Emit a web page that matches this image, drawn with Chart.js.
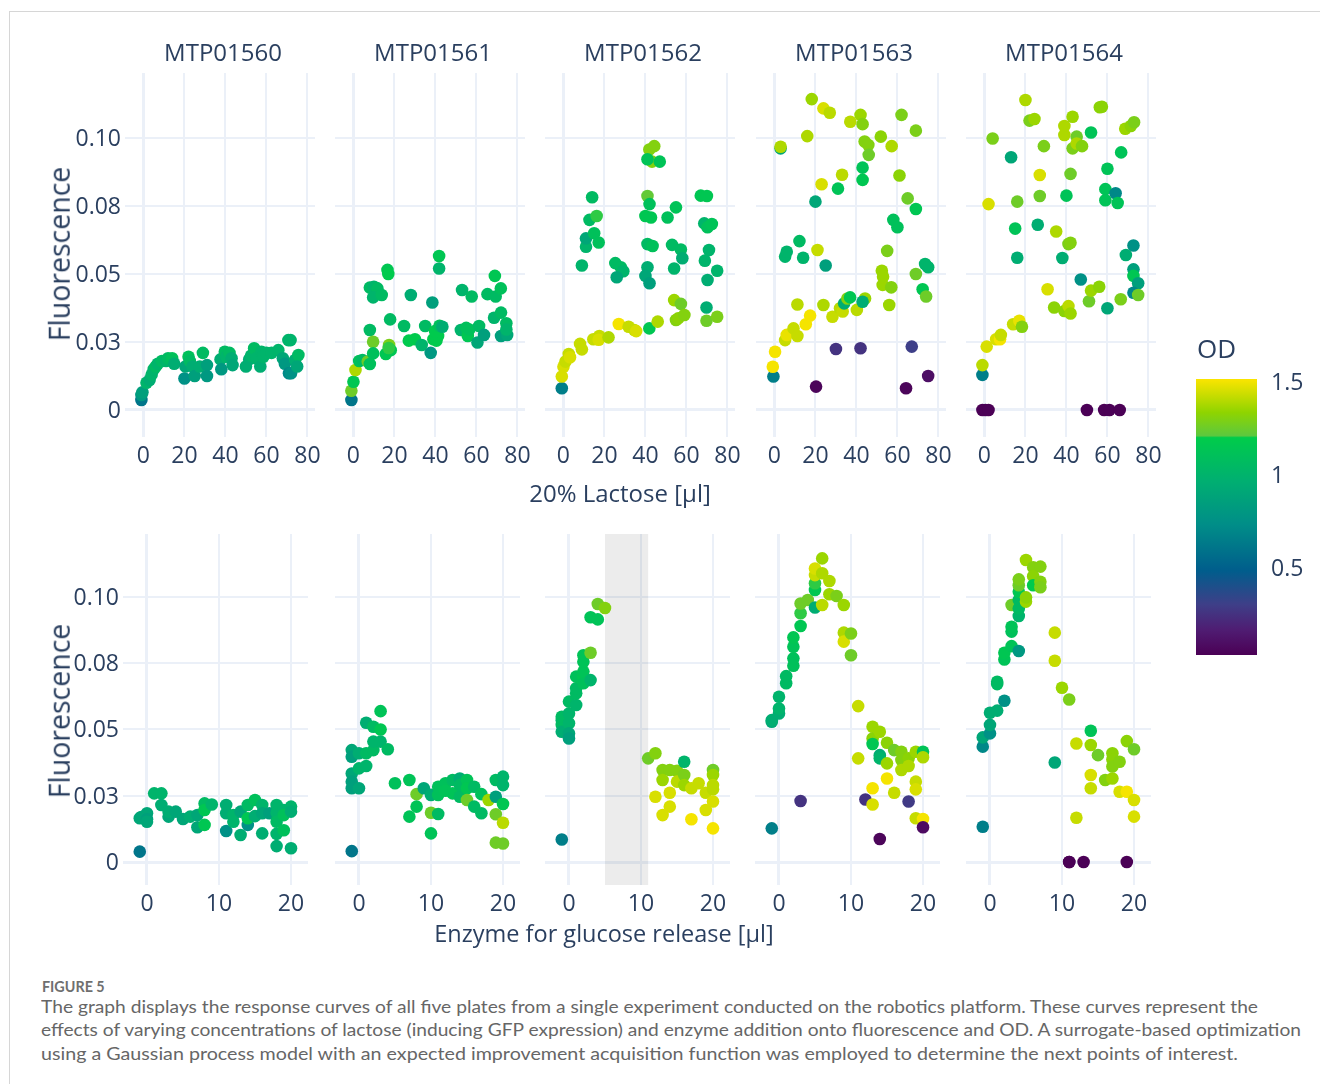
<!DOCTYPE html>
<html>
<head>
<meta charset="utf-8">
<script src="https://cdn.jsdelivr.net/npm/chart.js@4.4.0/dist/chart.umd.min.js"></script>
<style>
  html, body { margin: 0; padding: 0; background: #ffffff; }
  #fig { position: relative; width: 1320px; height: 1084px; overflow: hidden; background: #ffffff;
         font-family: 'Open Sans', sans-serif; color: #2a3f5f; }
  #frame { position: absolute; left: 9px; top: 11px; right: -2px; bottom: -2px;
           border-top: 1px solid #d6d6d6; border-left: 1px solid #d6d6d6; }
  .txt { position: absolute; white-space: nowrap; }
  canvas { position: absolute; }
  .cap { font-family: Lato, 'Open Sans', sans-serif; color: #666666; transform-origin: 0 0; }
</style>
</head>
<body>
<div id="fig"><div id="frame"></div></div>
<script>
// ---- data -------------------------------------------------------------
const plates = ['MTP01560', 'MTP01561', 'MTP01562', 'MTP01563', 'MTP01564'];
const lactoseTicks = [0, 20, 40, 60, 80];
const enzymeTicks = [0, 10, 20];
const fluorescenceTicks = [0, 0.025, 0.05, 0.075, 0.1];
const fluorescenceTickLabels = ['0', '0.03', '0.05', '0.08', '0.10'];
const odTicks = [0.5, 1, 1.5];
const odTickLabels = ['0.5', '1', '1.5'];
const odRange = [0.027, 1.51];
const shadedEnzymeRange = [5, 11];   // region marked on plate MTP01562

// each point: [volume µl, fluorescence, OD]
const lactose_MTP01560 = [
  [-1,0.0037,0.6],[-1,0.0055,0.8],[-0.5,0.0065,0.85],[1.5,0.010,1.0],[3,0.011,0.95],[4,0.013,1.0],[5,0.015,1.0],
  [6,0.016,1.05],[7,0.017,1.0],[9,0.018,1.05],[11,0.018,1.0],[12,0.019,1.05],[14,0.019,1.1],[15,0.017,0.95],
  [20,0.0116,0.75],[20.5,0.016,0.9],[22,0.0196,1.1],[22.6,0.018,1.05],[24,0.016,0.95],[25,0.0125,0.85],
  [27.5,0.016,0.95],[29,0.021,1.05],[31,0.0165,0.85],[31,0.0125,0.8],[37.6,0.0186,0.95],[38,0.015,0.8],
  [39.7,0.0214,1.05],[40.5,0.0196,1.0],[42,0.021,1.05],[43,0.019,0.95],[43.5,0.0165,0.9],[50,0.016,0.95],
  [51.6,0.0186,0.95],[52.5,0.02,1.0],[54,0.0227,1.05],[55,0.019,1.0],[57,0.016,0.95],[57.6,0.0214,1.0],
  [58.5,0.0196,1.0],[60,0.021,1.0],[62.5,0.021,1.0],[65.8,0.022,1.0],[68,0.019,0.9],[69,0.017,0.8],
  [70.7,0.0257,1.0],[71.8,0.0257,1.0],[71,0.0135,0.7],[72,0.0135,0.75],[74,0.0184,0.95],[75.6,0.0202,1.05],[75,0.016,0.9]
];
const lactose_MTP01561 = [
  [-1,0.0037,0.6],[-1,0.0071,1.25],[0,0.0104,1.15],[1,0.0147,1.38],[2.8,0.018,1.1],[4.4,0.0184,1.05],[7,0.0178,1.25],
  [8,0.0169,1.1],[8,0.0294,1.05],[9.6,0.0251,1.25],[9.6,0.0208,1.1],[8,0.045,1.05],[10,0.0453,1.0],[11.7,0.0447,1.05],
  [9.6,0.0414,1.0],[13.8,0.0423,1.05],[16.6,0.0515,1.15],[17,0.050,1.18],[15.8,0.0206,1.15],[17.4,0.0239,1.28],
  [18.2,0.022,1.15],[17.2,0.0228,1.2],[17.9,0.0333,1.05],[24.7,0.0309,1.05],[28,0.0423,0.95],[27,0.0255,1.18],
  [30,0.026,1.18],[33.3,0.0239,1.0],[35,0.0309,1.05],[37.7,0.021,0.8],[38.5,0.0395,0.85],[39,0.026,1.18],
  [40.5,0.0255,1.18],[41.3,0.0272,1.18],[39.8,0.029,1.18],[42,0.031,1.1],[41.8,0.0566,1.15],[41.8,0.052,1.0],
  [43.4,0.0306,0.95],[52.4,0.0294,1.0],[53,0.0441,1.0],[55,0.0302,1.1],[55.8,0.0272,1.15],[56.5,0.0296,1.1],
  [57.7,0.0417,1.05],[60.5,0.0248,0.9],[61.3,0.0309,1.05],[63.7,0.0276,0.85],[65.4,0.0426,1.05],[69,0.0493,1.15],
  [69.4,0.0417,1.05],[71.9,0.0447,1.1],[68.6,0.0339,1.0],[72,0.0358,1.05],[72,0.0272,0.85],[74.6,0.0319,1.05],
  [75,0.0276,0.9],[74.6,0.0296,1.0]
];
const lactose_MTP01562 = [
  [-0.8,0.008,0.65],[-0.8,0.0123,1.45],[0,0.0159,1.45],[1,0.0178,1.42],[2.6,0.0206,1.42],[3.2,0.0194,1.45],
  [8.1,0.0243,1.42],[9,0.0223,1.42],[14.6,0.026,1.42],[17.5,0.0272,1.42],[17.2,0.0258,1.45],[22,0.0267,1.38],
  [27,0.0316,1.5],[31.8,0.0306,1.42],[34.6,0.0294,1.42],[35.5,0.029,1.45],[41.9,0.03,1.15],[46,0.0325,1.38],
  [54,0.0404,1.35],[57.3,0.039,1.25],[54.9,0.0331,1.3],[56,0.0337,1.32],[59,0.0349,1.3],[69.8,0.0377,0.95],
  [69.8,0.0328,1.25],[75,0.0343,1.28],[9,0.0531,1.0],[11,0.06,1.0],[11,0.0631,0.9],[15,0.065,1.1],[17.2,0.0616,1.1],
  [12.7,0.0699,1.05],[16.2,0.0713,1.2],[14,0.0782,1.05],[25.3,0.054,1.05],[28,0.0525,1.05],[29.2,0.051,1.0],
  [26,0.0488,0.9],[41,0.0787,1.22],[42,0.0757,1.1],[40,0.0713,1.15],[42.7,0.0708,1.15],[41,0.061,1.05],
  [43.5,0.0603,1.1],[41,0.0525,0.95],[40,0.0493,0.9],[42,0.0466,0.85],[41.9,0.0958,1.3],[44.3,0.097,1.3],
  [43.2,0.0913,1.3],[41,0.0922,1.12],[47,0.0913,1.12],[50.8,0.0708,1.1],[54.9,0.0745,1.12],[53,0.0607,1.05],
  [57.3,0.059,1.05],[58,0.0558,0.95],[54,0.052,1.0],[67,0.0788,1.15],[70,0.0787,1.15],[68.7,0.0686,1.0],
  [70.3,0.0672,1.1],[72.4,0.0684,1.12],[71,0.0588,1.0],[69,0.0549,1.0],[75,0.0512,1.0],[70.3,0.0478,0.95]
];
const lactose_MTP01563 = [
  [-0.5,0.0123,0.65],[-0.8,0.0159,1.5],[0.3,0.0214,1.5],[5.2,0.0257,1.42],[6,0.0276,1.48],[9.3,0.03,1.42],
  [11.2,0.0272,1.42],[11.2,0.0388,1.4],[15.3,0.0315,1.5],[17.4,0.0347,1.5],[20.3,0.0086,0.05],[23.9,0.0386,1.38],
  [28.3,0.0343,1.42],[30,0.0224,0.25],[32,0.0374,1.4],[33.3,0.0362,1.42],[34,0.0392,0.95],[35.6,0.041,1.3],
  [36.9,0.0414,1.15],[40.2,0.0368,1.4],[42,0.0227,0.25],[44.2,0.041,1.35],[43,0.0398,0.95],[52.4,0.0512,1.35],
  [53,0.049,1.35],[52.8,0.046,1.35],[56,0.0386,1.35],[57,0.0451,1.3],[64.2,0.008,0.05],[67,0.0233,0.3],
  [75,0.0125,0.1],[69,0.05,1.25],[72.3,0.0444,1.15],[74,0.0417,1.25],[73.5,0.0537,1.0],[75,0.0525,1.0],
  [55,0.0585,1.28],[58,0.0699,1.1],[60,0.0672,1.1],[5.2,0.0564,1.0],[6,0.0582,1.0],[12.2,0.0621,1.05],
  [14,0.056,1.0],[21,0.0588,1.42],[25,0.0531,0.85],[20,0.0766,0.9],[23,0.083,1.45],[31,0.0814,1.12],
  [33,0.0865,1.4],[43,0.0891,1.12],[43,0.0846,1.15],[44,0.0987,1.3],[45.8,0.0974,1.3],[46,0.0938,1.25],
  [3,0.0962,0.9],[3,0.0968,1.38],[16,0.1007,1.38],[18.2,0.1143,1.35],[23.9,0.1109,1.45],[27,0.1093,1.4],
  [37,0.106,1.4],[42,0.1085,1.35],[43,0.1051,1.3],[51.9,0.1005,1.32],[57.2,0.097,1.38],[61,0.0862,1.32],
  [65,0.0778,1.25],[69,0.0739,1.15],[62,0.1085,1.28],[69,0.1027,1.28]
];
const lactose_MTP01564 = [
  [-1,0,0.03],[0.5,0,0.03],[2,0,0.03],[50,0,0.03],[58.4,0,0.03],[61,0,0.03],[66,0,0.03],[-1,0.0129,0.65],
  [-1,0.0165,1.4],[1.1,0.0233,1.45],[5.7,0.026,1.45],[7.6,0.026,1.5],[8,0.0276,1.42],[14,0.0315,1.42],
  [17,0.0328,1.48],[18.3,0.0306,1.3],[30.8,0.0444,1.45],[34,0.0377,1.32],[39,0.0364,1.32],[41,0.0382,1.4],
  [42,0.0355,1.35],[47,0.048,0.75],[51,0.04,1.25],[52,0.0439,1.35],[56,0.0453,1.32],[60,0.0374,0.9],
  [66.5,0.0407,1.28],[72.7,0.0517,0.85],[72.7,0.0493,1.15],[75,0.0466,0.85],[72.7,0.0431,0.7],[75,0.0423,1.25],
  [72.7,0.0605,0.75],[69,0.057,0.95],[16,0.056,0.95],[15,0.0667,1.12],[26,0.0681,0.95],[35,0.0656,1.38],
  [41,0.061,1.28],[42,0.0615,1.3],[38,0.0559,0.95],[2,0.0757,1.45],[16,0.0766,1.25],[27,0.0787,1.25],
  [40,0.0788,1.12],[27,0.0864,1.45],[42,0.0868,1.25],[59,0.0812,1.12],[64,0.0797,0.7],[59,0.0771,1.12],
  [65,0.0761,1.12],[60,0.0887,1.12],[66.7,0.0947,1.12],[13,0.0929,0.9],[4,0.0998,1.28],[29,0.097,1.28],
  [20,0.114,1.38],[22,0.1064,1.28],[24.4,0.107,1.35],[39,0.1044,1.38],[39,0.1011,1.38],[43,0.1078,1.35],
  [45,0.1005,1.25],[43,0.0962,1.28],[45,0.098,1.38],[47.6,0.097,1.3],[52,0.102,1.12],[56.3,0.1113,1.32],
  [57.3,0.1115,1.32],[68.7,0.1034,1.35],[71.4,0.1044,1.32],[73,0.1058,1.28]
];

const enzyme_MTP01560 = [
  [-1,0.0039,0.6],[-1,0.0165,0.9],[-0.8,0.017,0.9],[0,0.0184,0.9],[0,0.0161,0.85],[0,0.0152,0.9],[1,0.0259,1.0],
  [2,0.0259,1.0],[2,0.0215,0.95],[3,0.0171,0.9],[3,0.019,0.95],[4,0.019,0.9],[5,0.0162,0.9],[6,0.0171,0.95],
  [7,0.0177,0.9],[7,0.0131,0.9],[8,0.0221,1.05],[8,0.0196,1.15],[8,0.014,1.15],[9,0.0217,1.0],[11,0.0215,0.95],
  [11,0.0184,0.95],[11,0.0117,0.75],[12,0.0177,1.0],[12,0.0152,1.0],[13,0.019,0.9],[13,0.0102,0.95],
  [14,0.0215,1.05],[14,0.014,0.75],[14,0.0165,1.15],[15,0.0234,1.1],[15,0.0173,0.95],[16,0.0215,1.0],
  [16,0.0108,0.95],[16,0.0184,0.9],[17,0.0184,0.85],[18,0.0215,1.0],[18,0.0186,1.0],[18,0.0152,1.05],
  [18,0.0106,1.0],[18,0.006,0.95],[19,0.0196,1.0],[19,0.0177,1.1],[19,0.012,1.1],[20,0.0209,1.0],
  [20,0.019,0.95],[20,0.0052,0.95]
];
const enzyme_MTP01561 = [
  [-1,0.0041,0.6],[-1,0.0422,0.9],[-1,0.0397,0.85],[-1,0.0334,0.9],[-1,0.0303,0.85],[-1,0.0278,0.85],[0,0.041,0.95],
  [0,0.0278,0.9],[0,0.0353,1.0],[1,0.0362,1.0],[1,0.041,1.05],[1,0.0525,0.95],[2,0.0422,1.05],[2,0.0454,1.0],
  [2,0.051,1.05],[3,0.0569,1.12],[3,0.05,1.15],[3,0.0454,1.0],[4,0.0425,1.05],[5,0.0297,1.1],[7,0.0309,1.12],
  [7,0.0171,1.12],[8,0.0256,1.25],[8,0.0209,1.12],[9,0.0278,0.9],[10,0.0253,0.95],[10,0.0186,1.25],[10,0.0108,1.12],
  [11,0.0284,1.1],[11,0.0253,1.1],[11,0.0181,1.05],[12,0.0297,1.1],[12,0.0269,1.12],[13,0.0309,1.05],
  [13,0.0259,1.12],[14,0.0315,0.95],[14,0.0246,1.05],[14,0.029,1.05],[15,0.0309,1.12],[15,0.0278,1.15],
  [15,0.0234,1.25],[16,0.0284,1.05],[16,0.0209,1.05],[17,0.0256,1.1],[17,0.0184,1.05],[18,0.0234,1.35],
  [19,0.0309,1.05],[19,0.0246,0.85],[19,0.018,1.25],[19,0.0073,1.25],[20,0.0322,1.0],[20,0.029,1.0],
  [20,0.0219,1.15],[20,0.0148,1.4],[20,0.007,1.25]
];
const enzyme_MTP01562 = [
  [-1,0.0085,0.65],[-1,0.0535,1.0],[-1,0.0517,1.05],[-1,0.0491,0.95],[-1,0.0548,1.05],[0,0.056,1.0],[0,0.0523,1.0],
  [0,0.0485,0.9],[0,0.0466,0.85],[0,0.0605,1.05],[1,0.0592,1.0],[1,0.0636,1.05],[1,0.0655,1.05],[1,0.0699,1.1],
  [2,0.0699,1.15],[2,0.0674,1.1],[2,0.0718,1.12],[2,0.0755,1.12],[2,0.078,1.12],[3,0.0789,1.25],[3,0.0686,1.0],
  [3,0.0923,1.12],[4,0.0915,1.12],[4,0.0973,1.25],[5,0.0958,1.3],[11,0.0391,1.25],[12,0.041,1.3],[12,0.0246,1.45],
  [13,0.0177,1.45],[13,0.0347,1.3],[13,0.0309,1.35],[14,0.0347,1.3],[14,0.0261,1.45],[14,0.0209,1.45],
  [15,0.0344,1.3],[15,0.0303,1.4],[16,0.0378,1.0],[16,0.0328,1.28],[16,0.029,1.35],[17,0.0161,1.5],
  [17,0.0278,1.42],[18,0.0297,1.42],[19,0.0261,1.42],[19,0.0196,1.45],[20,0.0347,1.25],[20,0.0328,1.35],
  [20,0.029,1.4],[20,0.0274,1.4],[20,0.0228,1.45],[20,0.0127,1.5]
];
const enzyme_MTP01563 = [
  [-1,0.0127,0.65],[-1,0.0529,0.9],[-1,0.0535,0.95],[0,0.056,0.95],[0,0.0579,1.0],[0,0.0623,1.0],[1,0.0674,1.05],
  [1,0.0701,1.05],[2,0.074,1.1],[2,0.0768,1.1],[2,0.0812,1.12],[2,0.0847,1.15],[3,0.089,1.15],[3,0.0938,1.2],
  [3,0.0975,1.25],[3,0.023,0.25],[4,0.0988,1.25],[5,0.096,0.95],[5,0.1026,1.15],[5,0.1051,1.2],[5,0.1082,1.42],
  [5,0.1107,1.45],[6,0.1145,1.35],[6,0.1089,1.38],[6,0.0969,1.4],[7,0.106,1.38],[7,0.101,1.35],[8,0.1003,1.28],
  [9,0.0969,1.35],[9,0.0865,1.38],[9,0.0831,1.45],[10,0.0862,1.28],[10,0.078,1.25],[11,0.0588,1.42],
  [11,0.0391,1.42],[12,0.0236,0.25],[13,0.051,1.35],[13,0.0466,1.32],[13,0.0445,1.15],[13,0.0217,1.45],
  [13,0.0278,1.5],[14,0.0491,1.35],[14,0.0403,0.95],[14,0.0391,1.0],[14,0.0087,0.05],[15,0.045,1.32],
  [15,0.0372,1.35],[15,0.0315,1.5],[16,0.0422,1.25],[16,0.0261,1.42],[17,0.0416,1.3],[17,0.0385,1.3],
  [17,0.0347,1.38],[18,0.0391,1.32],[18,0.0362,1.38],[18,0.0228,0.28],[19,0.0416,1.35],[19,0.0303,1.42],
  [19,0.0274,1.45],[19,0.0165,1.42],[20,0.0416,1.12],[20,0.0395,1.38],[20,0.0162,1.5],[20,0.0131,0.08]
];
const enzyme_MTP01564 = [
  [-1,0.0133,0.65],[-1,0.0435,0.7],[-1,0.047,0.9],[0,0.0485,0.75],[0,0.0517,0.9],[0,0.0563,0.95],[1,0.0571,0.95],
  [1,0.068,1.05],[1,0.0671,1.05],[2,0.0608,0.75],[2,0.0764,1.12],[2,0.0789,1.15],[3,0.0814,1.12],[3,0.0869,1.1],
  [3,0.0887,1.12],[3,0.0969,1.25],[4,0.0796,0.8],[4,0.0928,1.0],[4,0.0956,1.05],[4,0.0988,1.05],[4,0.1019,1.15],
  [4,0.1044,1.25],[4,0.1066,1.28],[5,0.1139,1.35],[5,0.0982,1.35],[5,0.0998,1.32],[6,0.1111,1.3],[6,0.1078,1.32],
  [6,0.1044,1.18],[7,0.1114,1.3],[7,0.1057,1.3],[7,0.1036,1.28],[9,0.0865,1.42],[9,0.0759,1.42],[9,0.0375,0.9],
  [10,0.0657,1.35],[11,0.0613,1.28],[11,0,0.03],[11,0,0.03],[13,0,0.03],[19,0,0.03],[12,0.0447,1.42],
  [12,0.0167,1.42],[14,0.0495,1.12],[14,0.0441,1.35],[14,0.0328,1.45],[14,0.0278,1.42],[15,0.0403,1.25],
  [16,0.0309,1.3],[17,0.041,1.32],[17,0.0387,1.32],[17,0.036,1.3],[17,0.0315,1.35],[18,0.0378,1.3],
  [18,0.0265,1.45],[19,0.0456,1.32],[19,0.0265,1.5],[20,0.0425,1.25],[20,0.0234,1.45],[20,0.0171,1.45]
];

const lactoseSeries = [lactose_MTP01560, lactose_MTP01561, lactose_MTP01562, lactose_MTP01563, lactose_MTP01564];
const enzymeSeries = [enzyme_MTP01560, enzyme_MTP01561, enzyme_MTP01562, enzyme_MTP01563, enzyme_MTP01564];

// ---- styling ------------------------------------------------------------
const INK = '#2a3f5f';
const GRID = '#EBF0F8';
const FONT = "'Open Sans', sans-serif";
Chart.defaults.font.family = FONT;
Chart.defaults.color = INK;

// OD colour scale (OD value -> colour)
const colorStops = [
  [0.027, '#4b0055'], [0.16, '#4f1c72'], [0.30, '#3e3f88'], [0.48, '#005d8c'], [0.73, '#008e88'],
  [0.97, '#00b070'], [1.195, '#00cc4a'], [1.205, '#5cc83e'], [1.33, '#8fd400'], [1.42, '#c6dc00'], [1.51, '#fbe500']
];
function hexRgb(h) { return [1, 3, 5].map(i => parseInt(h.substr(i, 2), 16)); }
function odColor(v) {
  if (v <= colorStops[0][0]) return colorStops[0][1];
  for (let i = 1; i < colorStops.length; i++) {
    const [v1, c1] = colorStops[i];
    if (v <= v1) {
      const [v0, c0] = colorStops[i - 1];
      const t = (v - v0) / (v1 - v0);
      const a = hexRgb(c0), b = hexRgb(c1);
      return 'rgb(' + a.map((x, k) => Math.round(x + (b[k] - x) * t)).join(',') + ')';
    }
  }
  return colorStops[colorStops.length - 1][1];
}

// plot-area geometry of the two rows of panels
const ROWS = {
  lactose: { top: 73, height: 364, lefts: [125, 335, 545, 756, 966], width: 190,
             xRange: [-9, 83.7], yRange: [-0.00993, 0.1239], ticks: lactoseTicks },
  enzyme:  { top: 534, height: 351, lefts: [123, 335, 545, 755, 966], width: 185,
             xRange: [-3.33, 22.36], yRange: [-0.00867, 0.1237], ticks: enzymeTicks }
};

const fig = document.getElementById('fig');

// shaded vertical band drawn behind the points
const bandPlugin = {
  id: 'band',
  beforeDatasetsDraw(chart, args, opts) {
    if (!opts || !opts.range) return;
    const { ctx, chartArea: a, scales: { x } } = chart;
    const x0 = x.getPixelForValue(opts.range[0]);
    const x1 = x.getPixelForValue(opts.range[1]);
    ctx.save();
    ctx.fillStyle = 'rgba(0,0,0,0.075)';
    ctx.fillRect(x0, a.top, x1 - x0, a.bottom - a.top);
    ctx.restore();
  }
};

function makePanel(row, col, points, band) {
  const padL = 70, padT = 8, padR = 24, padB = 46;
  const w = row.width + padL + padR, h = row.height + padT + padB;
  const cv = document.createElement('canvas');
  cv.width = w; cv.height = h;
  cv.style.left = (row.lefts[col] - padL) + 'px';
  cv.style.top = (row.top - padT) + 'px';
  cv.style.width = w + 'px'; cv.style.height = h + 'px';
  fig.appendChild(cv);

  new Chart(cv, {
    type: 'scatter',
    data: {
      datasets: [{
        data: points.map(p => ({ x: p[0], y: p[1] })),
        backgroundColor: points.map(p => odColor(p[2])),
        pointRadius: 6.3, pointHoverRadius: 6.3, borderWidth: 0
      }]
    },
    options: {
      responsive: false, animation: false, events: [],
      layout: { padding: { left: 0, top: padT, right: padR, bottom: 0 } },
      plugins: { legend: { display: false }, tooltip: { enabled: false }, band: { range: band } },
      scales: {
        x: {
          type: 'linear', min: row.xRange[0], max: row.xRange[1],
          afterBuildTicks: s => { s.ticks = row.ticks.map(v => ({ value: v })); },
          afterFit: s => { s.height = padB; s.paddingLeft = 0; s.paddingRight = 0; },
          grid: { color: GRID, lineWidth: c => (c.tick && c.tick.value === 0 ? 3 : 2), drawTicks: false },
          border: { display: false },
          ticks: { font: { size: 23 }, color: INK, padding: 6, maxRotation: 0, autoSkip: false }
        },
        y: {
          type: 'linear', min: row.yRange[0], max: row.yRange[1],
          afterBuildTicks: s => { s.ticks = fluorescenceTicks.map(v => ({ value: v })); },
          afterFit: s => { s.width = padL; s.paddingTop = 0; s.paddingBottom = 0; },
          grid: { color: GRID, lineWidth: c => (c.tick && c.tick.value === 0 ? 3 : 2), drawTicks: false },
          border: { display: false },
          ticks: {
            display: col === 0, font: { size: 23 }, color: INK, padding: 4, autoSkip: false, labelOffset: 1.5,
            callback: v => fluorescenceTickLabels[fluorescenceTicks.indexOf(v)]
          }
        }
      }
    },
    plugins: [bandPlugin]
  });
}

plates.forEach((p, i) => {
  makePanel(ROWS.lactose, i, lactoseSeries[i], null);
  makePanel(ROWS.enzyme, i, enzymeSeries[i], i === 2 ? shadedEnzymeRange : null);
});

// ---- colour bar ---------------------------------------------------------
const gradientPlugin = {
  id: 'odGradient',
  beforeDatasetsDraw(chart) {
    const { ctx, chartArea: a, scales: { y } } = chart;
    const top = y.getPixelForValue(odRange[1]), bot = y.getPixelForValue(odRange[0]);
    const g = ctx.createLinearGradient(0, top, 0, bot);
    colorStops.forEach(([v, c]) => g.addColorStop((odRange[1] - v) / (odRange[1] - odRange[0]), c));
    ctx.save();
    ctx.fillStyle = g;
    ctx.fillRect(a.left, top, a.right - a.left, bot - top);
    ctx.restore();
  }
};
(function makeColorbar() {
  const left = 1196, top = 379, barW = 61, barH = 276, padT = 14, padB = 14, axisW = 70;
  const w = barW + axisW, h = barH + padT + padB;
  const cv = document.createElement('canvas');
  cv.width = w; cv.height = h;
  cv.style.left = left + 'px'; cv.style.top = (top - padT) + 'px';
  cv.style.width = w + 'px'; cv.style.height = h + 'px';
  fig.appendChild(cv);
  new Chart(cv, {
    type: 'scatter',
    data: { datasets: [{ data: [] }] },
    options: {
      responsive: false, animation: false, events: [],
      layout: { padding: { left: 0, right: 0, top: padT, bottom: padB } },
      plugins: { legend: { display: false }, tooltip: { enabled: false } },
      scales: {
        x: { display: false, min: 0, max: 1 },
        y: {
          position: 'right', min: odRange[0], max: odRange[1],
          afterBuildTicks: s => { s.ticks = odTicks.map(v => ({ value: v })); },
          afterFit: s => { s.width = axisW; s.paddingTop = 0; s.paddingBottom = 0; },
          grid: { display: false }, border: { display: false },
          ticks: { font: { size: 23 }, color: INK, padding: 6, labelOffset: 2.5,
                   callback: v => odTickLabels[odTicks.indexOf(v)] }
        }
      }
    },
    plugins: [gradientPlugin]
  });
})();

// ---- text ---------------------------------------------------------------
// place a line of text by its baseline; align: 'left' | 'center'
function text(str, x, baseline, size, opts = {}) {
  const d = document.createElement('div');
  d.className = 'txt' + (opts.cls ? ' ' + opts.cls : '');
  d.textContent = str;
  d.style.fontSize = size + 'px';
  d.style.lineHeight = size + 'px';
  d.style.top = (baseline - (opts.asc || 0.888) * size) + 'px';
  d.style.left = x + 'px';
  if (opts.weight) d.style.fontWeight = opts.weight;
  if (opts.center) d.style.transform = 'translateX(-50%)';
  fig.appendChild(d);
  return d;
}

plates.forEach((p, i) => {
  const r = ROWS.lactose;
  text(p, r.lefts[i] + r.width / 2 + 3, 61, 24, { center: true });
});
text('20% Lactose [µl]', 620, 502, 24, { center: true });
text('Enzyme for glucose release [µl]', 604, 943, 23.5, { center: true });
text('OD', 1197, 358, 26);

function yTitle(cy) {
  const d = document.createElement('div');
  d.className = 'txt';
  d.textContent = 'Fluorescence';
  d.style.fontSize = '28.5px';
  d.style.lineHeight = '28.5px';
  d.style.left = '59px';
  d.style.top = cy + 'px';
  d.style.transform = 'translate(-50%,-50%) rotate(-90deg)';
  fig.appendChild(d);
}
yTitle(254);
yTitle(711);

// caption
const captionLines = [
  ['The graph displays the response curves of all five plates from a single experiment conducted on the robotics platform. These curves represent the', 1258],
  ['effects of varying concentrations of lactose (inducing GFP expression) and enzyme addition onto fluorescence and OD. A surrogate-based optimization', 1301],
  ['using a Gaussian process model with an expected improvement acquisition function was employed to determine the next points of interest.', 1238]
];
const figLabel = text('FIGURE 5', 42, 994, 14.5, { cls: 'cap', weight: 700, asc: 0.987 });
figLabel.style.color = '#6f6f6f';
const capEls = captionLines.map((l, i) => text(l[0], 41, 1014.8 + i * 23.4, 18, { cls: 'cap', asc: 0.987 }));
function fitCaption() {
  capEls.forEach((el, i) => {
    const target = captionLines[i][1] - 41;
    const wNat = el.getBoundingClientRect().width;
    if (wNat > 0) el.style.transform = 'scaleX(' + (target / wNat) + ')';
  });
  const wf = figLabel.getBoundingClientRect().width;
  if (wf > 0) figLabel.style.transform = 'scaleX(' + (62.7 / wf) + ')';
}
fitCaption();
if (document.fonts && document.fonts.ready) document.fonts.ready.then(() => {
  capEls.forEach(el => el.style.transform = '');
  figLabel.style.transform = '';
  fitCaption();
});
</script>
</body>
</html>
